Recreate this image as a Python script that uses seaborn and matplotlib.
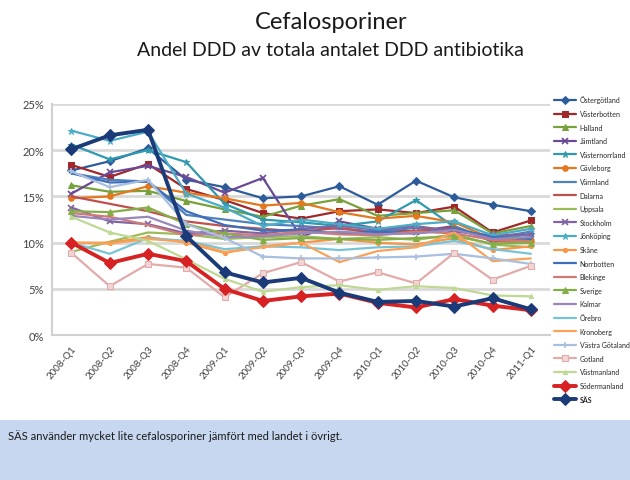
import matplotlib
matplotlib.use("Agg")
import matplotlib.pyplot as plt
import seaborn as sns
import numpy as np
from matplotlib.patches import Rectangle
from matplotlib.ticker import FuncFormatter

quarters = ['2008-Q1', '2008-Q2', '2008-Q3', '2008-Q4', '2009-Q1', '2009-Q2', '2009-Q3',
            '2009-Q4', '2010-Q1', '2010-Q2', '2010-Q3', '2010-Q4', '2011-Q1']

series_names = ['Östergötland', 'Västerbotten', 'Halland', 'Jämtland', 'Västernorrland',
                'Gävleborg', 'Värmland', 'Dalarna', 'Uppsala', 'Stockholm', 'Jönköping',
                'Skåne', 'Norrbotten', 'Blekinge', 'Sverige', 'Kalmar', 'Örebro',
                'Kronoberg', 'Västra Götaland', 'Gotland', 'Västmanland', 'Södermanland', 'SÄS']

ostergotland = [17.8, 18.8, 20.2, 16.8, 16.0, 14.8, 15.0, 16.1, 14.1, 16.7, 14.9, 14.1, 13.4]
vasterbotten = [18.4, 17.1, 18.5, 15.8, 14.6, 13.2, 12.6, 13.4, 13.6, 13.2, 13.9, 11.1, 12.4]
halland = [16.2, 15.5, 15.6, 14.5, 13.6, 12.8, 14.0, 14.7, 12.9, 13.2, 13.5, 11.0, 11.8]
jamtland = [15.3, 17.6, 18.3, 17.1, 15.4, 17.0, 10.6, 12.3, 11.5, 11.2, 11.8, 10.1, 10.6]
vasternorrland = [20.6, 19.0, 20.0, 18.7, 14.2, 12.5, 12.2, 11.8, 12.3, 14.6, 11.7, 10.4, 10.9]
gavleborg = [14.8, 15.0, 16.1, 15.4, 14.8, 14.0, 14.3, 13.3, 12.6, 12.9, 12.2, 10.4, 10.2]
varmland = [17.5, 16.8, 16.6, 13.0, 12.5, 12.0, 11.8, 11.5, 11.2, 11.6, 11.4, 10.5, 11.2]
dalarna = [15.0, 14.2, 13.4, 12.3, 11.8, 11.5, 11.2, 11.6, 11.0, 11.3, 11.6, 10.2, 10.0]
uppsala = [9.0, 10.1, 11.1, 10.9, 10.4, 10.6, 10.7, 10.4, 10.6, 10.3, 10.9, 9.8, 9.5]
stockholm = [13.8, 12.3, 12.0, 11.0, 11.3, 11.0, 11.5, 11.8, 11.4, 11.8, 11.2, 10.8, 10.9]
jonkoping = [22.1, 21.0, 22.0, 15.3, 13.8, 11.8, 12.5, 12.0, 11.5, 12.0, 12.3, 10.8, 11.5]
skane = [10.0, 10.0, 10.6, 10.0, 8.9, 9.6, 10.0, 10.4, 10.0, 9.8, 10.5, 9.2, 9.6]
norrbotten = [17.5, 16.5, 16.6, 13.4, 11.9, 11.3, 11.4, 11.0, 11.2, 11.0, 11.5, 10.6, 10.4]
blekinge = [13.2, 12.8, 11.9, 10.8, 11.0, 10.8, 11.2, 10.9, 10.8, 11.2, 11.0, 10.3, 10.1]
sverige = [13.4, 13.3, 13.8, 12.0, 11.0, 10.3, 10.5, 10.4, 10.3, 10.5, 10.7, 9.9, 10.0]
kalmar = [12.9, 12.5, 12.8, 11.3, 10.6, 10.7, 11.0, 11.2, 10.9, 11.0, 11.4, 10.4, 10.6]
orebro = [10.0, 8.8, 10.5, 10.2, 9.3, 9.6, 9.5, 9.2, 9.5, 9.6, 10.2, 9.3, 8.8]
kronoberg = [10.0, 9.9, 10.4, 10.1, 9.0, 9.5, 10.0, 7.9, 9.1, 9.5, 11.1, 8.0, 8.3]
vastra_gotaland = [17.7, 16.0, 16.8, 12.0, 10.5, 8.5, 8.3, 8.3, 8.4, 8.5, 8.8, 8.3, 7.7]
gotland = [8.9, 5.3, 7.7, 7.3, 4.1, 6.7, 7.9, 5.8, 6.8, 5.6, 8.9, 6.0, 7.5]
vastmanland = [12.8, 11.1, 10.2, 8.2, 6.1, 4.7, 5.2, 5.4, 4.9, 5.3, 5.1, 4.3, 4.2]
sodermanland = [10.0, 7.8, 8.8, 8.0, 5.0, 3.7, 4.2, 4.5, 3.5, 3.0, 3.9, 3.2, 2.7]
sas = [20.1, 21.6, 22.2, 10.7, 6.8, 5.7, 6.2, 4.6, 3.6, 3.7, 3.1, 4.0, 2.8]

all_values = [ostergotland, vasterbotten, halland, jamtland, vasternorrland, gavleborg,
              varmland, dalarna, uppsala, stockholm, jonkoping, skane, norrbotten, blekinge,
              sverige, kalmar, orebro, kronoberg, vastra_gotaland, gotland, vastmanland,
              sodermanland, sas]

colors = ['#2E5C9A', '#A0282A', '#77A13B', '#6A4A94', '#2F9AAE', '#E2791F',
          '#4F81BD', '#C0504D', '#9BBB59', '#8064A2', '#4BACC6', '#F79646',
          '#3E6DBA', '#D07A78', '#86AE48', '#9A86BA', '#79C3D6', '#F9A35A',
          '#A9BFE0', '#E3AAAA', '#BFD894', '#D62222', '#1B3A78']
markers = ['D', 's', '^', 'x', '*', 'o', None, None, None, 'x', '*', 'o',
           None, None, '^', None, None, None, '+', 's', '^', 'D', 'D']
widths = [1.6] * 21 + [2.8, 2.8]
msizes = [4, 4, 4, 4, 5, 4, 0, 0, 0, 4, 5, 3, 0, 0, 4, 0, 0, 0, 4, 4, 3, 6, 6]

fig = plt.figure(figsize=(6.30, 4.81), dpi=100)
sns.set_style('white')
plt.rcParams['font.family'] = ['Lato', 'DejaVu Sans']

ax = fig.add_axes([0.083, 0.301, 0.79, 0.481])
x_idx = np.arange(len(quarters))

for name, vals, c, m, lw, ms in zip(series_names, all_values, colors, markers, widths, msizes):
    y = np.array(vals) / 100.0
    kw = dict(marker=m, markersize=ms, markeredgecolor=c, markerfacecolor=c) if m else {}
    if m in ('x', '+'):
        kw['markeredgewidth'] = 1.2
    if name == 'Gotland':
        kw['markerfacecolor'] = '#F2D4D4'
    sns.lineplot(x=x_idx, y=y, color=c, linewidth=lw, ax=ax, label=name, **kw)

ax.set_ylim(0, 0.25)
ax.set_xlim(-0.5, 12.27)
ax.set_yticks(np.arange(0, 0.2501, 0.05))
ax.yaxis.set_major_formatter(FuncFormatter(lambda v, p: f'{v*100:.0f}%'))
ax.yaxis.grid(True, color='#D9D9D9', linewidth=2.0)
ax.set_axisbelow(True)
ax.set_xticks(x_idx)
ax.set_xticklabels(quarters, rotation=50, ha='right', va='top', rotation_mode='anchor',
                   fontsize=7, color='#404040')
ax.set_xticks(np.arange(-0.5, 12.6, 1), minor=True)
ax.tick_params(axis='x', which='major', length=0, pad=6)
ax.tick_params(axis='x', which='minor', length=3, color='#BFBFBF', width=1)
ax.tick_params(axis='y', length=0, labelsize=8, labelcolor='#404040', pad=6)
for s in ['top', 'right']:
    ax.spines[s].set_visible(False)
ax.spines['left'].set_color('#D0D0D0')
ax.spines['left'].set_linewidth(1.5)
ax.spines['bottom'].set_color('#D0D0D0')
ax.spines['bottom'].set_linewidth(1.5)
ax.set_xlabel('')
ax.set_ylabel('')

handles, labels = ax.get_legend_handles_labels()
leg = ax.legend(handles, labels, loc='upper left', bbox_to_anchor=(0.875, 0.805),
                bbox_transform=fig.transFigure, frameon=False, fontsize=5,
                handlelength=3.2, labelspacing=0.95, handletextpad=0.5, borderaxespad=0)
for t in leg.get_texts():
    if t.get_text() == 'SÄS':
        t.set_fontweight('bold')

fig.text(0.525, 0.953, 'Cefalosporiner', ha='center', va='center', fontsize=17, color='#1A1A1A')
fig.text(0.525, 0.895, 'Andel DDD av totala antalet DDD antibiotika', ha='center', va='center',
         fontsize=14, color='#1A1A1A')

fig.patches.append(Rectangle((0, 0), 1, 0.125, transform=fig.transFigure,
                             facecolor='#C6D7EF', edgecolor='none', zorder=0))
fig.text(0.013, 0.094, 'SÄS använder mycket lite cefalosporiner jämfört med landet i övrigt.',
         ha='left', va='center', fontsize=8, color='#1A1A1A')

fig.savefig('out.png', dpi=100)
